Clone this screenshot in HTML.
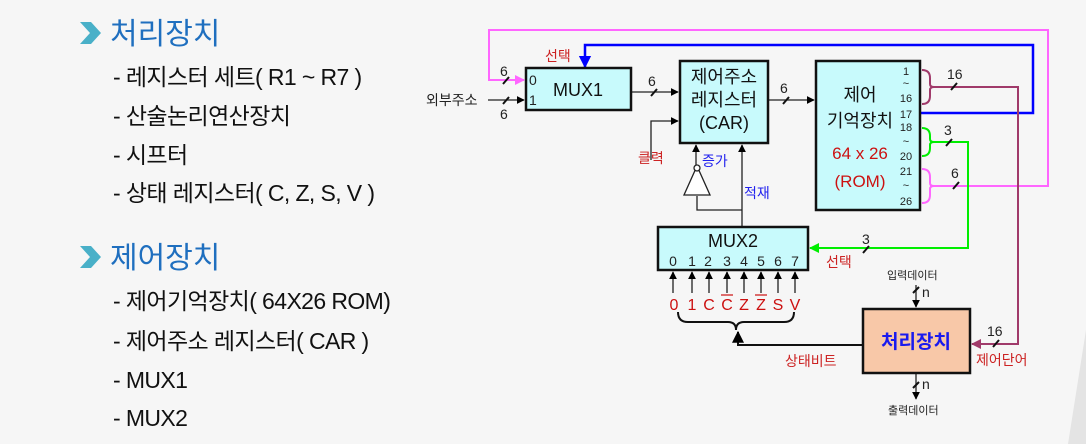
<!DOCTYPE html>
<html><head><meta charset="utf-8"><style>
html,body{margin:0;padding:0;background:#f6f6f6;}
svg{display:block;font-family:"Liberation Sans","Noto Sans CJK KR",sans-serif;}
</style></head><body>
<svg width="1086" height="444" viewBox="0 0 1086 444" xmlns="http://www.w3.org/2000/svg">
<defs>
<marker id="a" viewBox="0 0 10 10" refX="9" refY="5" markerWidth="6" markerHeight="6" orient="auto"><path d="M0,0L10,5L0,10z" fill="#000"/></marker>
<marker id="ab" viewBox="0 0 10 10" refX="9" refY="5" markerWidth="5" markerHeight="5" orient="auto"><path d="M0,0L10,5L0,10z" fill="#0000ff"/></marker>
<marker id="ap" viewBox="0 0 10 10" refX="9" refY="5" markerWidth="5" markerHeight="5" orient="auto"><path d="M0,0L10,5L0,10z" fill="#ff66ff"/></marker>
<marker id="ag" viewBox="0 0 10 10" refX="9" refY="5" markerWidth="5" markerHeight="5" orient="auto"><path d="M0,0L10,5L0,10z" fill="#00ee00"/></marker>
<marker id="am" viewBox="0 0 10 10" refX="9" refY="5" markerWidth="5" markerHeight="5" orient="auto"><path d="M0,0L10,5L0,10z" fill="#a03a6a"/></marker>
</defs>
<polygon points="1068,444 1086,330 1086,444" fill="#e4e4e4"/>
<g fill="#49b0c8"><polygon points="80,22 91,22 101,33 91,44 80,44 90,33"/><polygon points="80,246 91,246 101,257 91,268 80,268 90,257"/></g>
<g font-size="30" fill="#1f6fbf"><text x="110" y="44">처리장치</text><text x="110" y="268">제어장치</text></g>
<g font-size="23" fill="#111" letter-spacing="-0.6">
<text x="113" y="85">- 레지스터 세트( R1 ~ R7 )</text>
<text x="113" y="124">- 산술논리연산장치</text>
<text x="113" y="163">- 시프터</text>
<text x="113" y="201">- 상태 레지스터( C, Z, S, V )</text>
<text x="113" y="309">- 제어기억장치( 64X26 ROM)</text>
<text x="113" y="349">- 제어주소 레지스터( CAR )</text>
<text x="113" y="388">- MUX1</text>
<text x="113" y="426">- MUX2</text>
</g>
<g fill="none" stroke-width="2">
<path d="M930,186 H1048 V30 H489 V80 H524" stroke="#ff66ff" marker-end="url(#ap)"/>
<path d="M920,113 H1033 V45 H585 V67" stroke="#0000ff" stroke-width="2.5" marker-end="url(#ab)"/>
<path d="M932,87 H1018 V344 H972" stroke="#a03a6a" marker-end="url(#am)"/>
<path d="M934,142 H968 V248 H810" stroke="#00ee00" marker-end="url(#ag)"/>
</g>
<g fill="none" stroke-width="2">
<path d="M922,70 q8,0 8,8 v6 q0,3 4,3 q-4,0 -4,3 v6 q0,8 -8,8" stroke="#a03a6a"/>
<path d="M922,128 q8,0 8,8 v3 q0,3 4,3 q-4,0 -4,3 v3 q0,8 -8,8" stroke="#00ee00"/>
<path d="M922,169 q8,0 8,8 v6 q0,3 4,3 q-4,0 -4,3 v6 q0,8 -8,8" stroke="#ff66ff"/>
</g>
<g fill="none" stroke="#222" stroke-width="1.3">
<path d="M488,100 H524" marker-end="url(#a)"/>
<path d="M631,92 H678" marker-end="url(#a)"/>
<path d="M768,100 H814" marker-end="url(#a)"/>
<path d="M651,160 V121 H678" marker-end="url(#a)"/>
<path d="M696,168 V145" marker-end="url(#a)"/>
<path d="M742,227 V145" marker-end="url(#a)"/>
<path d="M742,210 H697 V196"/>
<path d="M916,285 V307" marker-end="url(#a)"/>
<path d="M916,373 V399" marker-end="url(#a)"/>
</g>
<polygon points="697,166 684,195 710,195" fill="#fff" stroke="#222" stroke-width="1.3"/>
<circle cx="697" cy="168" r="3" fill="#fff" stroke="#222" stroke-width="1.3"/>
<g stroke="#111" stroke-width="2">
<line x1="503" y1="84" x2="509" y2="77"/><line x1="503" y1="104" x2="509" y2="97"/>
<line x1="651" y1="96" x2="657" y2="89"/><line x1="783" y1="104" x2="789" y2="97"/>
<line x1="951" y1="90" x2="957" y2="83"/><line x1="946" y1="146" x2="952" y2="139"/>
<line x1="953" y1="189" x2="959" y2="182"/><line x1="863" y1="253" x2="869" y2="246"/>
<line x1="993" y1="347" x2="999" y2="340"/>
<line x1="913" y1="293" x2="919" y2="287"/><line x1="913" y1="388" x2="919" y2="382"/>
</g>
<g stroke="#111" stroke-width="2.5">
<rect x="526" y="68" width="105" height="42" fill="#c8fafc"/>
<rect x="680" y="61" width="88" height="82" fill="#c8fafc"/>
<rect x="816" y="61" width="104" height="149" fill="#c8fafc"/>
<rect x="658" y="227" width="150" height="43" fill="#c8fafc"/>
<rect x="863" y="309" width="107" height="64" fill="#f8c8a8"/>
</g>
<g font-size="14" fill="#222">
<text x="529" y="85">0</text><text x="529" y="105">1</text>
<text x="426" y="105">외부주소</text>
<text x="500" y="76">6</text><text x="500" y="119">6</text>
<text x="648" y="86">6</text><text x="780" y="93">6</text>
<text x="947" y="79">16</text><text x="944" y="135">3</text><text x="951" y="178">6</text>
<text x="862" y="244">3</text><text x="987" y="336">16</text>
<text x="887" y="279" font-size="11">입력데이터</text>
<text x="888" y="414" font-size="11">출력데이터</text>
<text x="922" y="297">n</text><text x="922" y="389">n</text>
</g>
<g font-size="11" fill="#222" text-anchor="middle">
<text x="906" y="75">1</text><text x="906" y="87">~</text><text x="906" y="102">16</text><text x="906" y="118">17</text>
<text x="906" y="131">18</text><text x="906" y="145">~</text><text x="906" y="160">20</text>
<text x="906" y="175">21</text><text x="906" y="189">~</text><text x="906" y="205">26</text>
</g>
<g font-size="18" fill="#111" text-anchor="middle">
<text x="578" y="96">MUX1</text>
<text x="724" y="83">제어주소</text><text x="724" y="106">레지스터</text><text x="724" y="129">(CAR)</text>
<text x="860" y="101">제어</text><text x="860" y="127">기억장치</text>
<text x="733" y="247">MUX2</text>
</g>
<g font-size="17" fill="#cc1111" text-anchor="middle"><text x="860" y="159">64 x 26</text><text x="860" y="187">(ROM)</text></g>
<text x="916" y="348" font-size="19" fill="#1a1aee" text-anchor="middle" font-weight="bold">처리장치</text>
<g font-size="14" fill="#cc2222">
<text x="545" y="61">선택</text><text x="638" y="163">클력</text>
<text x="826" y="267">선택</text><text x="785" y="366">상태비트</text><text x="976" y="365">제어단어</text>
</g>
<g font-size="14" fill="#2222ee"><text x="702" y="166">증가</text><text x="744" y="198">적재</text></g>
<g font-size="14" fill="#222" text-anchor="middle">
<text x="673" y="266">0</text><text x="692" y="266">1</text><text x="708" y="266">2</text><text x="727" y="266">3</text><text x="744" y="266">4</text><text x="761" y="266">5</text><text x="778" y="266">6</text><text x="795" y="266">7</text>
</g>
<g stroke="#222" stroke-width="1.3">
<line x1="673" y1="293" x2="673" y2="272" marker-end="url(#a)"/><line x1="692" y1="293" x2="692" y2="272" marker-end="url(#a)"/>
<line x1="709" y1="293" x2="709" y2="272" marker-end="url(#a)"/><line x1="727" y1="293" x2="727" y2="272" marker-end="url(#a)"/>
<line x1="744" y1="293" x2="744" y2="272" marker-end="url(#a)"/><line x1="761" y1="293" x2="761" y2="272" marker-end="url(#a)"/>
<line x1="778" y1="293" x2="778" y2="272" marker-end="url(#a)"/><line x1="795" y1="293" x2="795" y2="272" marker-end="url(#a)"/>
</g>
<g font-size="16" fill="#cc1111" text-anchor="middle">
<text x="674" y="310">0</text><text x="692" y="310">1</text><text x="709" y="310">C</text><text x="727" y="310">C</text><text x="744" y="310">Z</text><text x="761" y="310">Z</text><text x="778" y="310">S</text><text x="795" y="310">V</text>
</g>
<g stroke="#cc1111" stroke-width="1.2"><line x1="721" y1="295" x2="733" y2="295"/><line x1="755" y1="295" x2="767" y2="295"/></g>
<path d="M678,312 q0,10 10,10 h40 q8,0 8,8 q0,-8 8,-8 h40 q10,0 10,-10" fill="none" stroke="#111" stroke-width="2"/>
<path d="M863,345 H738 V332" fill="none" stroke="#111" stroke-width="2" marker-end="url(#a)"/>
</svg>
</body></html>
